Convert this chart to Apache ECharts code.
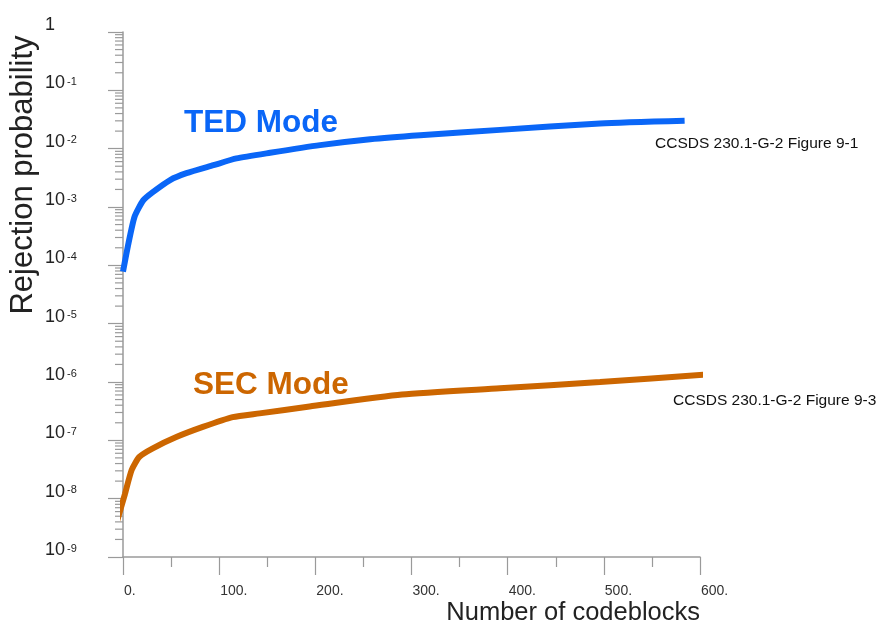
<!DOCTYPE html>
<html>
<head>
<meta charset="utf-8">
<script src="https://cdn.jsdelivr.net/npm/echarts@6/dist/echarts.min.js"></script>
<style>
html,body{margin:0;padding:0;background:#fff;}
#chart{width:883px;height:630px;}
</style>
</head>
<body>
<div id="chart"></div>
<script>
// ---- data ----
const tedX = [0, 5, 12, 21, 31, 49, 66, 94, 118, 153, 205, 257, 309, 392, 496, 584];
const tedY = [7.8e-5, 2.1e-4, 6.8e-4, 1.3e-3, 1.8e-3, 2.9e-3, 3.8e-3, 5.2e-3, 6.8e-3, 8.5e-3, 1.15e-2, 1.45e-2, 1.7e-2, 2.1e-2, 2.7e-2, 3.0e-2];
const secX = [-6, 2, 9, 17, 31, 56, 83, 114, 142, 194, 290, 392, 496, 608];
const secY = [4.2e-9, 1.2e-8, 3.1e-8, 5.2e-8, 7.3e-8, 1.15e-7, 1.7e-7, 2.5e-7, 2.9e-7, 3.8e-7, 6.1e-7, 7.8e-7, 1.0e-6, 1.35e-6];
const xTickValues = [0, 100, 200, 300, 400, 500, 600];
const yDecades = [-9, -8, -7, -6, -5, -4, -3, -2, -1, 0];
const minorMultipliers = [2, 3, 4, 5, 6, 7, 8, 9];
const seriesNames = ['TED Mode', 'SEC Mode'];
const sourceNotes = ['CCSDS 230.1-G-2 Figure 9-1', 'CCSDS 230.1-G-2 Figure 9-3'];
const axisTitles = ['Number of codeblocks', 'Rejection probability'];

const FONT = '"Liberation Sans", Arial, Helvetica, sans-serif';
const BLUE = '#0a66f7';
const ORANGE = '#cc6600';
const AXIS_GRAY = '#9a9a9a';

const minorValues = [];
yDecades.slice(0, -1).forEach(d => minorMultipliers.forEach(m => minorValues.push([0, m * Math.pow(10, d)])));

const chart = echarts.init(document.getElementById('chart'));
chart.setOption({
  animation: false,
  backgroundColor: '#fff',
  grid: { left: 123, right: 183, top: 32, bottom: 73, containLabel: false },
  xAxis: {
    type: 'value',
    min: xTickValues[0],
    max: xTickValues[xTickValues.length - 1],
    interval: 100,
    axisLine: { show: true, lineStyle: { color: AXIS_GRAY, width: 1.5 } },
    axisTick: { show: true, inside: false, length: 18, lineStyle: { color: AXIS_GRAY, width: 1.2 } },
    minorTick: { show: true, splitNumber: 2, length: 10, lineStyle: { color: AXIS_GRAY, width: 1.2 } },
    splitLine: { show: false },
    axisLabel: {
      align: 'left', margin: 27, fontSize: 14, fontFamily: FONT, color: '#333',
      padding: [0, 0, 0, 1],
      formatter: v => v + '.'
    }
  },
  yAxis: {
    type: 'log',
    logBase: 10,
    min: Math.pow(10, yDecades[0]),
    max: Math.pow(10, yDecades[yDecades.length - 1]),
    interval: 1,
    axisLine: { show: true, lineStyle: { color: AXIS_GRAY, width: 1.5 } },
    axisTick: { show: true, length: 15, lineStyle: { color: AXIS_GRAY, width: 1.2 } },
    splitLine: { show: false },
    axisLabel: {
      align: 'left', margin: 78, verticalAlign: 'bottom', color: '#222',
      formatter: v => {
        const e = Math.round(Math.log10(v));
        return e === 0 ? '{b|1}' : '{b|10}{s|' + e + '}';
      },
      rich: {
        b: { fontSize: 18, lineHeight: 17, fontFamily: FONT, color: '#222', padding: [0, 0, -3, 0] },
        s: { fontSize: 11, lineHeight: 12, verticalAlign: 'top', fontFamily: FONT, color: '#222', padding: [3, 0, 0, 2] }
      }
    }
  },
  graphic: [
    { type: 'text', left: 184, top: 107, style: { text: seriesNames[0], fill: BLUE, font: 'bold 31.5px ' + FONT } },
    { type: 'text', left: 193, top: 369, style: { text: seriesNames[1], fill: ORANGE, font: 'bold 31.5px ' + FONT } },
    { type: 'text', left: 655, top: 136, style: { text: sourceNotes[0], fill: '#111', font: '15.5px ' + FONT } },
    { type: 'text', left: 673, top: 393, style: { text: sourceNotes[1], fill: '#111', font: '15.5px ' + FONT } },
    { type: 'text', right: 183, top: 600, style: { text: axisTitles[0], fill: '#222', font: '25.5px ' + FONT } },
    { type: 'text', x: 23, y: 175, rotation: Math.PI / 2,
      style: { text: axisTitles[1], fill: '#222', font: '31px ' + FONT, align: 'center', verticalAlign: 'middle' } }
  ],
  series: [
    {
      type: 'custom',
      silent: true,
      clip: false,
      z: 1,
      data: minorValues,
      renderItem: (params, api) => {
        const p = api.coord([api.value(0), api.value(1)]);
        return { type: 'line', shape: { x1: p[0] - 8, y1: p[1], x2: p[0], y2: p[1] },
                 style: { stroke: AXIS_GRAY, lineWidth: 1.2 } };
      }
    },
    {
      name: seriesNames[0], type: 'line', clip: false, showSymbol: false, smooth: 0.2,
      lineStyle: { color: BLUE, width: 6 }, z: 5,
      data: tedX.map((x, i) => [x, tedY[i]])
    },
    {
      name: seriesNames[1], type: 'line', clip: false, showSymbol: false, smooth: 0.2,
      lineStyle: { color: ORANGE, width: 6 }, z: 5,
      data: secX.map((x, i) => [x, secY[i]])
    }
  ]
});
</script>
</body>
</html>
